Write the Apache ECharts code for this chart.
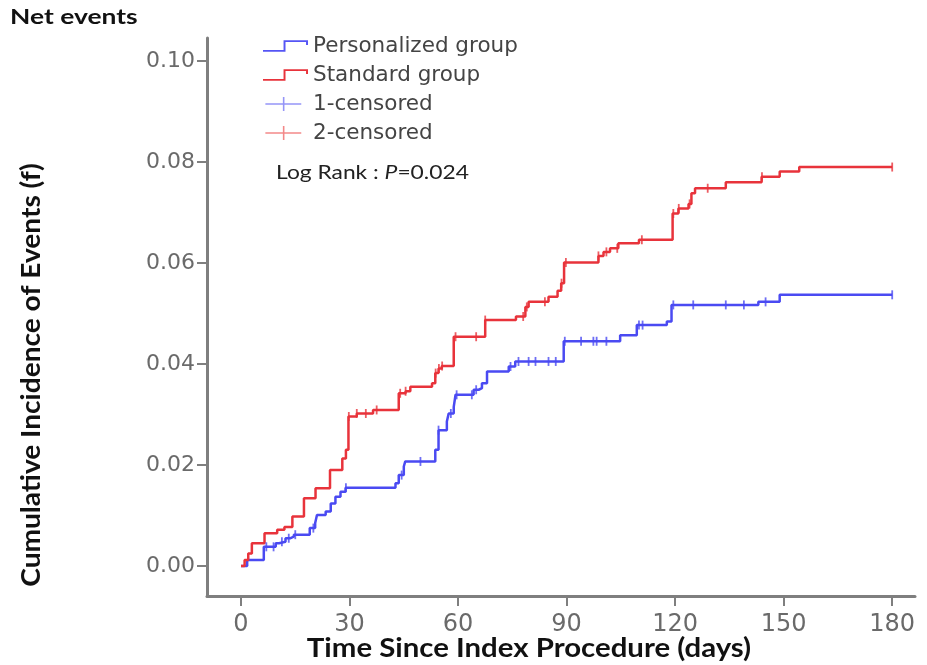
<!DOCTYPE html>
<html>
<head>
<meta charset="utf-8">
<script src="https://cdn.jsdelivr.net/npm/echarts@6/dist/echarts.min.js"></script>
<style>
html,body{margin:0;padding:0;background:#fff;}
#chart{width:927px;height:665px;}
</style>
</head>
<body>
<div id="chart"></div>
<script>
// ---- data ----
const personalizedTimes = [0,1.7,6.3,9.6,10.5,12.3,13.7,14.6,19,20.5,21,23.4,24.8,26.1,27.5,28.9,42.7,43.6,45,45.4,53.7,54.6,56.9,57.4,58.8,59.3,64.3,65.7,66.6,68,74,75.8,89.2,104.8,109.4,117.7,119,143,148.9,180];
const personalizedValues = [0,0.0012,0.0038,0.0045,0.0048,0.0055,0.0058,0.0062,0.0075,0.0085,0.0101,0.0108,0.0124,0.0137,0.0147,0.0155,0.0164,0.018,0.0197,0.0207,0.023,0.0269,0.0286,0.0302,0.0315,0.0339,0.0349,0.0352,0.0362,0.0385,0.0395,0.0405,0.0445,0.0457,0.0477,0.0484,0.0517,0.0523,0.0537,0.0537];
const standardTimes = [0,1,2,3,6.5,10,12,14.2,17.4,20.6,24.6,28,29,29.7,32,36.5,43.6,45.5,46.8,52.8,53.7,54.6,55.5,58.8,67.5,76,78.6,79.5,85,87.5,88.5,89.3,98.8,100.2,102,104.3,110,119.3,120.9,123.7,124.5,125.5,134,143.9,148.9,154.3,180];
const standardValues = [0,0.0012,0.0025,0.0045,0.0065,0.0072,0.0077,0.0098,0.0134,0.0154,0.019,0.0213,0.023,0.0296,0.0302,0.0309,0.0342,0.0346,0.0355,0.0362,0.0382,0.0391,0.0396,0.0454,0.0487,0.0494,0.0513,0.0523,0.0533,0.0545,0.056,0.0601,0.0614,0.0622,0.0629,0.0639,0.0646,0.0698,0.0708,0.0717,0.0738,0.0748,0.076,0.0771,0.0781,0.079,0.079];
const personalizedCensored = [7,9,11.3,13.2,15,20,29,44.4,49.6,54.6,58,59.6,63.8,65,74.5,76.7,79.5,81.4,85,87,89.5,94,97.4,98.3,101,110,111,119.5,125,134,139,145,180];
const standardCensored = [29.8,32,34.5,37.5,44,45.5,53.8,54.7,55.6,59.3,65,67.5,78,79,84,88.6,89.8,98.8,101,104,110.8,119.5,121,124,129,144,180];
const xTicks = [0,30,60,90,120,150,180];
const yTicks = [0,0.02,0.04,0.06,0.08,0.10];
const seriesNames = ['Personalized group','Standard group','1-censored','2-censored'];
const titleText = 'Net events';
const xTitle = 'Time Since Index Procedure (days)';
const yTitle = 'Cumulative Incidence of Events (f)';
const logRankLabel = 'Log Rank : ';
const logRankP = 'P';
const logRankValue = '=0.024';

// ---- helpers ----
const BLUE = '#4a4af2';
const RED = '#e8333b';
function zip(t, v){ return t.map((x,i)=>[x, v[i]]); }
function stepAt(t, times, vals){
  let v = vals[0];
  for (let i=0;i<times.length;i++){ if (times[i] <= t) v = vals[i]; else break; }
  return v;
}
function censorPts(cs, times, vals){ return cs.map(t => [t, stepAt(t, times, vals)]); }

const stepIcon = 'path://M0,11 L21,11 L21,1 L46,1 L46,6 L44,6 L44,3 L23,3 L23,13 L0,13 Z';
const plusIcon = 'path://M0,7.2 L20,7.2 L20,0 L21.8,0 L21.8,7.2 L41,7.2 L41,8.8 L21.8,8.8 L21.8,16 L20,16 L20,8.8 L0,8.8 Z M46,8 L46,8.01 L45.99,8 Z';

const chart = echarts.init(document.getElementById('chart'), null, {renderer:'canvas'});
const option = {
  animation: false,
  backgroundColor: '#fff',
  grid: {left: 207, right: 12, top: 38, bottom: 69, containLabel: false},
  xAxis: {
    type: 'value', min: -9.4, max: 186.3,
    axisLine: {onZero: false, lineStyle: {color: '#7f7f7f', width: 3}},
    axisTick: {customValues: xTicks, length: 10, lineStyle: {color: '#7f7f7f', width: 2}},
    axisLabel: {customValues: xTicks, fontFamily: 'DejaVu Sans', fontSize: 24, color: '#6a6a6a', margin: 17},
    splitLine: {show: false}
  },
  yAxis: {
    type: 'value', min: -0.00594, max: 0.10455,
    axisLine: {onZero: false, lineStyle: {color: '#7f7f7f', width: 3}},
    axisTick: {customValues: yTicks, length: 10, lineStyle: {color: '#7f7f7f', width: 2}},
    axisLabel: {customValues: yTicks, fontFamily: 'DejaVu Sans', fontSize: 22, color: '#6a6a6a', margin: 12,
      formatter: v => v.toFixed(2)},
    splitLine: {show: false}
  },
  legend: {
    orient: 'vertical', left: 263, top: 35, padding: 0,
    itemWidth: 45, itemHeight: 14, itemGap: 7,
    textStyle: {fontFamily: 'DejaVu Sans', fontSize: 21.5, color: '#444', lineHeight: 20},
    data: [
      {name: seriesNames[0], icon: stepIcon, itemStyle: {color: '#5555f5', borderWidth: 0}},
      {name: seriesNames[1], icon: stepIcon, itemStyle: {color: RED, borderWidth: 0}},
      {name: seriesNames[2], icon: plusIcon, itemStyle: {color: '#7a7af5', borderWidth: 0}},
      {name: seriesNames[3], icon: plusIcon, itemStyle: {color: '#f06a6a', borderWidth: 0}}
    ]
  },
  series: [
    {name: seriesNames[0], type: 'line', step: 'end', showSymbol: false, data: zip(personalizedTimes, personalizedValues),
      lineStyle: {color: BLUE, width: 2.5}, itemStyle: {color: BLUE}, z: 3},
    {name: seriesNames[1], type: 'line', step: 'end', showSymbol: false, data: zip(standardTimes, standardValues),
      lineStyle: {color: RED, width: 2.5}, itemStyle: {color: RED}, z: 3},
    {name: seriesNames[2], type: 'scatter', symbol: 'rect', symbolSize: [1.8, 9],
      data: censorPts(personalizedCensored, personalizedTimes, personalizedValues), itemStyle: {color: BLUE}, z: 4},
    {name: seriesNames[3], type: 'scatter', symbol: 'rect', symbolSize: [1.8, 9],
      data: censorPts(standardCensored, standardTimes, standardValues), itemStyle: {color: RED}, z: 4}
  ],
  graphic: [
    {type: 'text', x: 10, y: 18, scaleX: 1.32, style: {text: titleText, font: 'bold 20px Lato', fill: '#111', verticalAlign: 'middle'}},
    {type: 'text', x: 32, y: 375, rotation: Math.PI/2, scaleX: 1.08,
      style: {text: yTitle, font: 'bold 26px Lato', fill: '#111', align: 'center', verticalAlign: 'middle'}},
    {type: 'text', x: 529, y: 649, scaleX: 1.13,
      style: {text: xTitle, font: 'bold 26px Lato', fill: '#111', align: 'center', verticalAlign: 'middle'}},
    {type: 'text', x: 276, y: 173, scaleX: 1.2,
      style: {text: '{a|' + logRankLabel + '}{b|' + logRankP + '}{a|' + logRankValue + '}', verticalAlign: 'middle',
        rich: {a: {font: '19px Lato', fill: '#222'}, b: {font: 'italic 19px Lato', fill: '#222'}}}}
  ]
};
chart.setOption(option);
</script>
</body>
</html>
